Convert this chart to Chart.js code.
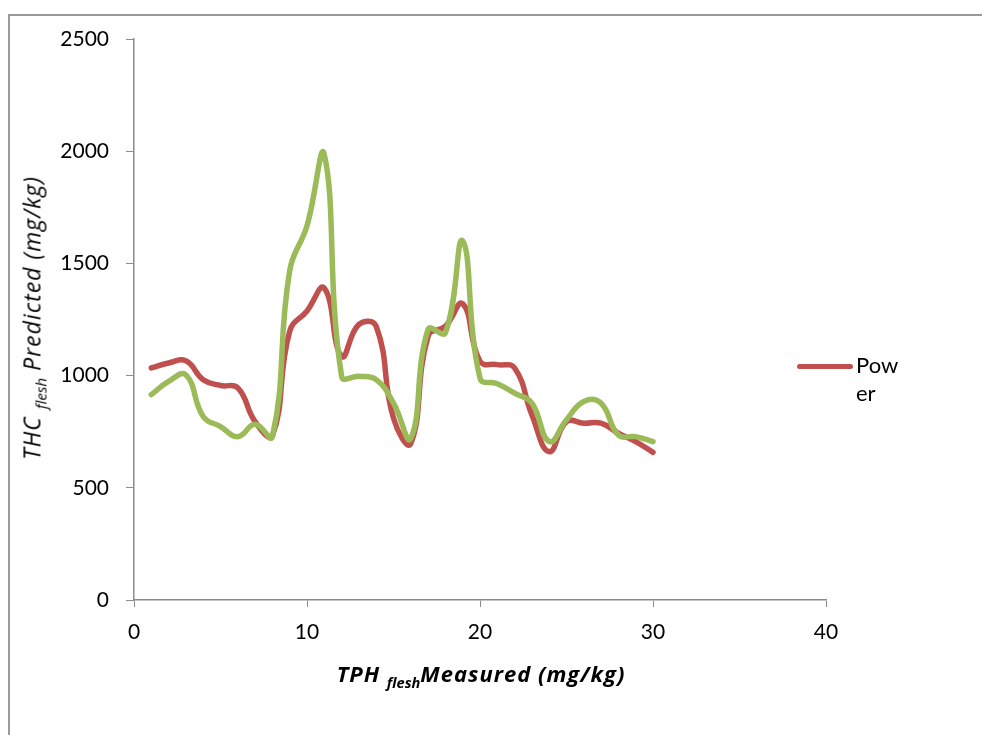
<!DOCTYPE html>
<html>
<head>
<meta charset="utf-8">
<script src="https://cdn.jsdelivr.net/npm/chart.js@4.4.1/dist/chart.umd.min.js"></script>
<style>
  html, body { margin: 0; padding: 0; background: #fff; }
  #wrap { position: relative; width: 982px; height: 735px; overflow: hidden; font-family: Lato, "Open Sans", sans-serif; }
  #frame { position: absolute; left: 8px; top: 14px; width: 1200px; height: 1000px; border: 2px solid #9a9a9a; box-sizing: border-box; }
  canvas { position: absolute; left: 0; top: 0; }
  .ttl { position: absolute; white-space: nowrap; color: #000; font-family: "Open Sans", Lato, sans-serif; }
  .ttl sub { font-size: 0.66em; vertical-align: -0.4em; letter-spacing: 0; }
  #ytitle { font-style: italic; font-size: 23px; letter-spacing: 1px; left: 33px; top: 318px; transform: translate(-50%, -50%) rotate(-90deg); }
  #xtitle { font-style: italic; font-weight: bold; font-size: 22px; letter-spacing: 1px; left: 481px; top: 675px; transform: translate(-50%, -50%); }
  #legend { position: absolute; left: 797px; top: 351px; }
  #legend .sw { position: absolute; left: 0; top: 13px; width: 56px; height: 5px; border-radius: 3px; background: #C0504D; }
  #legend .tx { position: absolute; left: 59px; top: 0; width: 50px; font-family: Lato, sans-serif; font-size: 22px; line-height: 28px; word-break: break-all; color: #000; }
</style>
</head>
<body>
<div id="wrap">
  <div id="frame"></div>
  <canvas id="c" width="982" height="735"></canvas>
  <div class="ttl" id="ytitle">THC <sub>flesh</sub> Predicted (mg/kg)</div>
  <div class="ttl" id="xtitle">TPH <sub>flesh</sub>Measured (mg/kg)</div>
  <div id="legend"><div class="sw"></div><div class="tx">Power</div></div>
</div>
<script>
const xValues = [1,2,3,4,5,6,7,8,9,10,11,12,13,14,15,16,17,18,19,20,21,22,23,24,25,26,27,28,29,30];
const powerValues = [1034,1056,1066,982,956,945,795,732,1198,1288,1390,1086,1228,1220,810,698,1176,1220,1320,1064,1049,1034,825,661,795,788,788,743,706,658];
const greenValues = [915,974,1003,818,773,728,783,728,1467,1668,1985,997,997,982,877,720,1206,1191,1600,989,964,922,877,706,803,885,877,735,728,706];
const xTicks = [0,10,20,30,40];
const yTicks = [0,500,1000,1500,2000,2500];

const toPts = (ys) => ys.map((y, i) => ({ x: xValues[i], y: y }));

new Chart(document.getElementById('c'), {
  type: 'line',
  data: {
    datasets: [
      { label: 'Power', data: toPts(powerValues), borderColor: '#C0504D', borderWidth: 5.5, pointRadius: 0, tension: 0.45, order: 2, borderCapStyle: 'round', borderJoinStyle: 'round' },
      { label: 'Series 2', data: toPts(greenValues), borderColor: '#9BBB59', borderWidth: 5.5, pointRadius: 0, tension: 0.45, order: 1, borderCapStyle: 'round', borderJoinStyle: 'round' }
    ]
  },
  options: {
    responsive: false,
    animation: false,
    layout: { autoPadding: false, padding: { left: 8, top: 39, right: 156, bottom: 0 } },
    plugins: { legend: { display: false }, tooltip: { enabled: false } },
    scales: {
      x: {
        type: 'linear', min: 0, max: 40,
        afterBuildTicks: (s) => { s.ticks = xTicks.map(v => ({ value: v })); },
        afterFit: (s) => { s.height = 135; },
        grid: { drawOnChartArea: false, drawTicks: true, tickLength: 7, color: '#8c8c8c' },
        border: { color: '#8c8c8c', width: 1.5 },
        ticks: { color: '#000', font: { family: 'Lato', size: 21 }, padding: 13, maxRotation: 0, callback: (v) => String(v) }
      },
      y: {
        type: 'linear', min: 0, max: 2500,
        afterBuildTicks: (s) => { s.ticks = yTicks.map(v => ({ value: v })); },
        afterFit: (s) => { s.width = 126; },
        grid: { drawOnChartArea: false, drawTicks: true, tickLength: 8, color: '#8c8c8c' },
        border: { color: '#8c8c8c', width: 1.5 },
        ticks: { color: '#000', font: { family: 'Lato', size: 21 }, padding: 17, callback: (v) => String(v) }
      }
    }
  }
});
</script>
</body>
</html>
